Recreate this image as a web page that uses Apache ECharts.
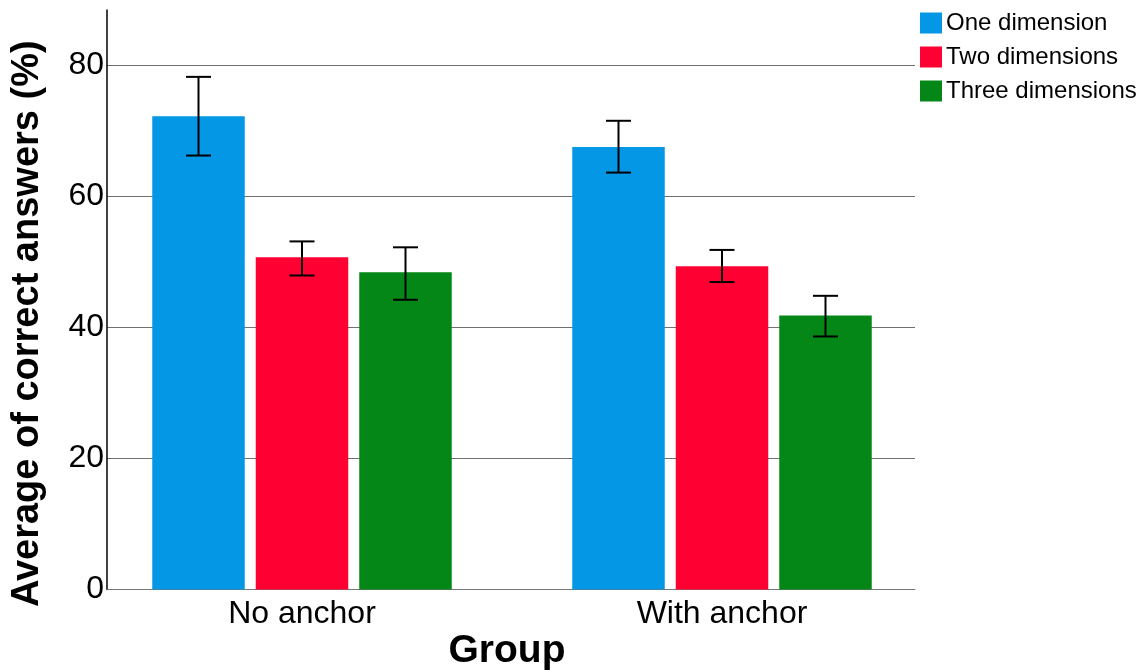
<!DOCTYPE html>
<html>
<head>
<meta charset="utf-8">
<title>Average of correct answers by group</title>
<script src="https://cdn.jsdelivr.net/npm/echarts@6/dist/echarts.min.js"></script>
<style>
  html, body { margin: 0; padding: 0; background: #fff; }
  #chart { width: 1148px; height: 670px; }
</style>
</head>
<body>
<div id="chart"></div>
<script>
// Groups on the x axis
const categories = ['No anchor', 'With anchor'];
// Series (number of dimensions)
const seriesNames = ['One dimension', 'Two dimensions', 'Three dimensions'];
// Mean percentage of correct answers per group
const oneDim = [72.2, 67.5];
const twoDim = [50.7, 49.3];
const threeDim = [48.4, 41.8];
// Error bar ranges [low, high] per group
const oneDimErr = [[66.2, 78.2], [63.6, 71.5]];
const twoDimErr = [[47.9, 53.1], [46.9, 51.8]];
const threeDimErr = [[44.2, 52.2], [38.6, 44.8]];
// Y axis tick values
const yTicks = [0, 20, 40, 60, 80];

const colors = ['#0497E6', '#FF0033', '#048716'];
const means = [oneDim, twoDim, threeDim];
const errs = [oneDimErr, twoDimErr, threeDimErr];

const BAR_W = 92.5;
const BAR_GAP = 11;
const Y_MAX = 88.4;
const sans = "'Liberation Sans', Arial, sans-serif";

const chart = echarts.init(document.getElementById('chart'), null, { renderer: 'canvas' });

const barSeries = seriesNames.map((name, i) => ({
  name: name,
  type: 'bar',
  xAxisIndex: 0,
  yAxisIndex: 0,
  barWidth: BAR_W,
  barGap: (BAR_GAP / BAR_W * 100) + '%',
  itemStyle: { color: colors[i] },
  emphasis: { disabled: true },
  data: means[i],
  z: 2
}));

const errSeries = seriesNames.map((name, i) => ({
  name: name + ' error',
  type: 'custom',
  xAxisIndex: 0,
  yAxisIndex: 0,
  z: 5,
  silent: true,
  data: errs[i].map((r, k) => [k, r[0], r[1]]),
  encode: { x: 0, y: [1, 2] },
  renderItem: function (params, api) {
    const k = api.value(0);
    const lo = api.coord([k, api.value(1)]);
    const hi = api.coord([k, api.value(2)]);
    const x = lo[0] + (i - 1) * (BAR_W + BAR_GAP);
    const cap = 12.5;
    const style = { stroke: '#000', lineWidth: 2 };
    return {
      type: 'group',
      children: [
        { type: 'line', shape: { x1: x, y1: hi[1], x2: x, y2: lo[1] }, style: style },
        { type: 'line', shape: { x1: x - cap, y1: hi[1], x2: x + cap, y2: hi[1] }, style: style },
        { type: 'line', shape: { x1: x - cap, y1: lo[1], x2: x + cap, y2: lo[1] }, style: style }
      ]
    };
  }
}));

const option = {
  backgroundColor: '#fff',
  animation: false,
  legend: {
    data: seriesNames,
    orient: 'vertical',
    left: 920,
    top: 11,
    padding: 0,
    itemWidth: 22,
    itemHeight: 21,
    itemGap: 10,
    icon: 'rect',
    textStyle: { fontFamily: sans, fontSize: 24, color: '#000', padding: [0, 0, 0, -1] },
    selectedMode: false
  },
  grid: [
    // bar layout
    { left: 92, width: 840, top: 10, bottom: 80.5, outerBoundsMode: 'none', containLabel: false },
    // axes frame
    { left: 107, width: 808, top: 10, bottom: 80.5, outerBoundsMode: 'none', containLabel: false }
  ],
  xAxis: [
    {
      type: 'category',
      gridIndex: 0,
      data: categories,
      axisLine: { show: false },
      axisTick: { show: false },
      axisLabel: { fontFamily: sans, fontSize: 32, color: '#000', margin: 9 },
      splitLine: { show: false }
    },
    {
      type: 'category',
      gridIndex: 1,
      data: categories,
      axisLine: { show: true, lineStyle: { color: '#777', width: 1 } },
      axisTick: { show: false },
      axisLabel: { show: false },
      name: 'Group',
      nameLocation: 'middle',
      nameGap: 42,
      nameTextStyle: { fontFamily: sans, fontSize: 39, fontWeight: 'bold', color: '#000', padding: [0, 8, 0, 0] }
    }
  ],
  yAxis: [
    {
      type: 'value',
      gridIndex: 0,
      min: 0,
      max: Y_MAX,
      show: false
    },
    {
      type: 'value',
      gridIndex: 1,
      min: 0,
      max: Y_MAX,
      interval: 20,
      axisLine: { show: true, lineStyle: { color: '#000', width: 1.5 } },
      axisTick: { show: false },
      axisLabel: {
        fontFamily: sans, fontSize: 32, color: '#000', margin: 3,
        showMaxLabel: false,
        formatter: v => (yTicks.indexOf(v) >= 0 ? String(v) : '')
      },
      splitLine: { show: true, showMinLine: false, showMaxLine: false, lineStyle: { color: '#707070', width: 1 } },
      name: 'Average of correct answers (%)',
      nameLocation: 'middle',
      nameGap: 60,
      nameTextStyle: { fontFamily: sans, fontSize: 38, fontWeight: 'bold', color: '#000', padding: [0, 48, 0, 0] }
    }
  ],
  series: barSeries.concat(errSeries)
};

chart.setOption(option);
</script>
</body>
</html>
